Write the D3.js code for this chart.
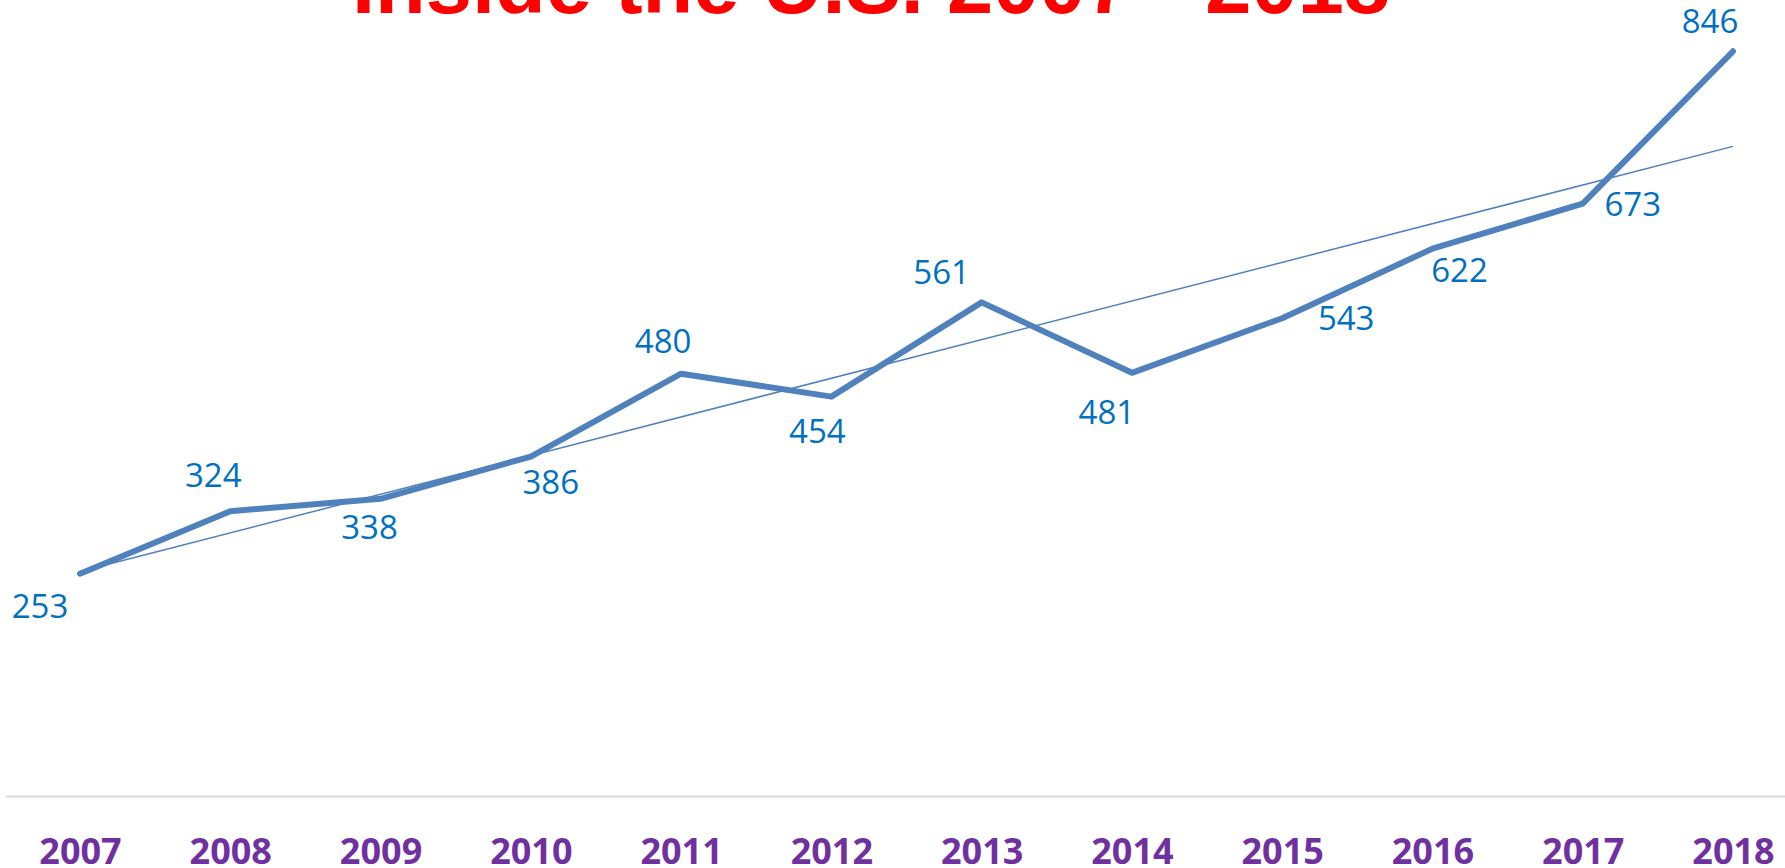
<!DOCTYPE html>
<html>
<head>
<meta charset="utf-8">
<script src="https://cdn.jsdelivr.net/npm/d3@7"></script>
<style>
    body { margin: 0; background: #fff; }
    svg { display: block; }
</style>
</head>
<body>
<div id="chart"></div>
<script>
// data
var years = ["2007", "2008", "2009", "2010", "2011", "2012", "2013", "2014", "2015", "2016", "2017", "2018"];
var counts = [253, 324, 338, 386, 480, 454, 561, 481, 543, 622, 673, 846];
var titleText = "Inside the U.S. 2007 - 2018";

// where each data label sits relative to its point (px)
var labelOffsets = [[-40, 32], [-17, -36], [-11, 28], [20, 26], [-18, -33], [-14, 34],
    [-40, -30], [-25, 39], [64, 0], [27, 22], [50, 0], [-23, -30]];

var width = 1785;
var height = 868;

var data = years.map(function(y, i) {
    return { year: y, value: counts[i], i: i };
});

var svg = d3.select("#chart")
    .append("svg")
    .attr("width", width)
    .attr("height", height);

svg.append("rect")
    .attr("width", width)
    .attr("height", height)
    .attr("fill", "#fff");

//scales
var xscale = d3.scalePoint()
    .domain(years)
    .range([80, 1733]);

var yscale = d3.scaleLinear()
    .domain([0, 900])
    .range([796.6, 3.7]);

// title (cut off at the top, like the original)
svg.append("text")
    .attr("x", 871)
    .attr("y", 13)
    .attr("text-anchor", "middle")
    .attr("font-family", "'Liberation Sans', Arial, sans-serif")
    .attr("font-weight", "bold")
    .attr("font-size", 83)
    .attr("fill", "#FF0000")
    .text(titleText);

// category axis
var xaxis = d3.axisBottom(xscale).tickSize(0).tickPadding(0);
var gx = svg.append("g")
    .attr("class", "axisX")
    .attr("transform", "translate(0," + yscale(0) + ")")
    .call(xaxis);

gx.select(".domain").remove();
gx.append("line")
    .attr("x1", 6)
    .attr("x2", width)
    .attr("y1", 0)
    .attr("y2", 0)
    .attr("stroke", "#D9D9D9")
    .attr("stroke-width", 2);

gx.selectAll(".tick text")
    .attr("y", 67)
    .attr("dy", 0)
    .attr("font-family", "'Open Sans', sans-serif")
    .attr("font-weight", "bold")
    .attr("font-size", 36)
    .attr("fill", "#7030A0");

// linear trendline (least squares)
var n = counts.length;
var mx = d3.mean(data, d => d.i);
var my = d3.mean(counts);
var slope = d3.sum(data, d => (d.i - mx) * (d.value - my)) / d3.sum(data, d => (d.i - mx) * (d.i - mx));
var icpt = my - slope * mx;

svg.append("line")
    .attr("x1", xscale(years[0]))
    .attr("y1", yscale(icpt))
    .attr("x2", xscale(years[n - 1]))
    .attr("y2", yscale(icpt + slope * (n - 1)))
    .attr("stroke", "#4F81BD")
    .attr("stroke-width", 1.5);

// main line
var line = d3.line()
    .x(d => xscale(d.year))
    .y(d => yscale(d.value));

svg.append("path")
    .datum(data)
    .attr("d", line)
    .attr("fill", "none")
    .attr("stroke", "#4F81BD")
    .attr("stroke-width", 6)
    .attr("stroke-linecap", "round")
    .attr("stroke-linejoin", "round");

//data labels
svg.selectAll(".label")
    .data(data)
    .enter()
    .append("text")
    .attr("class", "label")
    .attr("x", d => xscale(d.year) + labelOffsets[d.i][0])
    .attr("y", d => yscale(d.value) + labelOffsets[d.i][1])
    .attr("dy", "0.36em")
    .attr("text-anchor", "middle")
    .attr("font-family", "'Open Sans', sans-serif")
    .attr("font-size", 33)
    .attr("fill", "#0070C0")
    .text(d => d.value);
</script>
</body>
</html>
